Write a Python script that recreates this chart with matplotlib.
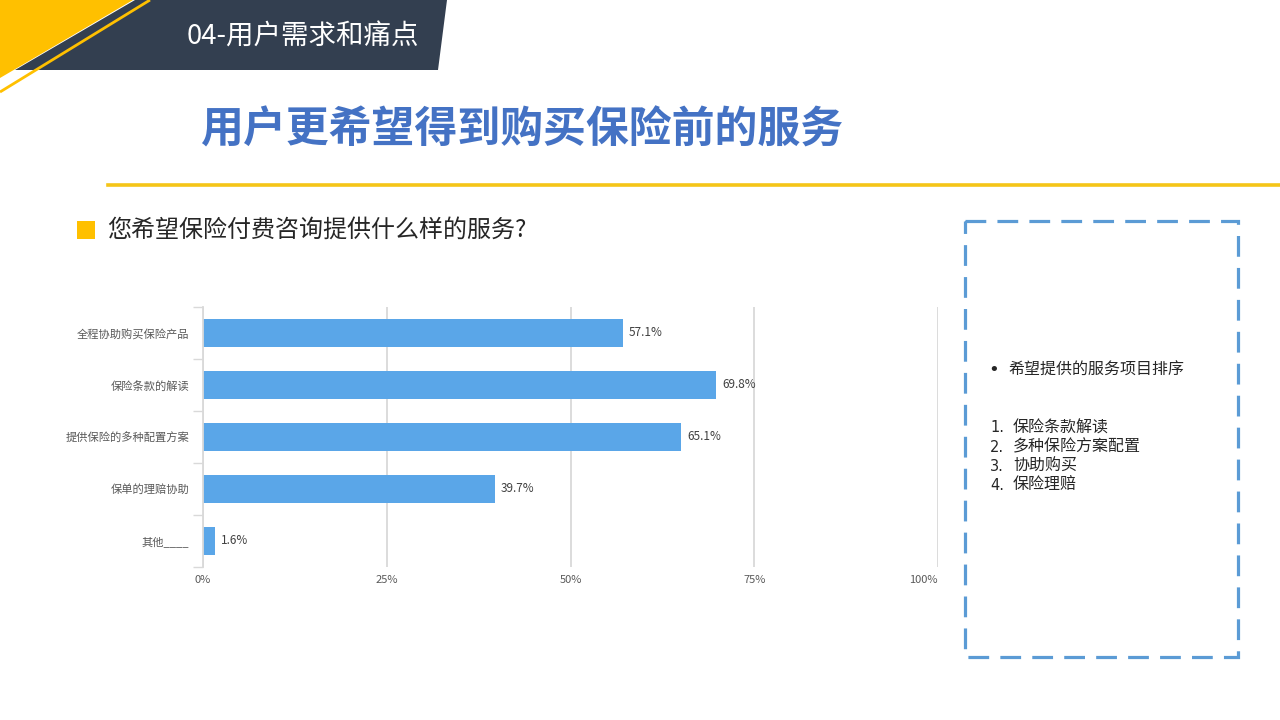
import matplotlib
matplotlib.use("Agg")
import matplotlib.pyplot as plt
from matplotlib.patches import Polygon, Rectangle

plt.rcParams['font.family'] = ['Noto Sans CJK SC', 'DejaVu Sans']

# data
categories = ['全程协助购买保险产品', '保险条款的解读', '提供保险的多种配置方案', '保单的理赔协助', '其他____']
values = [57.1, 69.8, 65.1, 39.7, 1.6]
xticks = [0, 25, 50, 75, 100]
xtick_labels = ['0%', '25%', '50%', '75%', '100%']
ranking = ['保险条款解读', '多种保险方案配置', '协助购买', '保险理赔']

W, H = 1280, 720
fig = plt.figure(figsize=(12.8, 7.2), dpi=100)

# page layer in pixel coordinates
bg = fig.add_axes([0, 0, 1, 1])
bg.set_xlim(0, W)
bg.set_ylim(H, 0)
bg.axis('off')

dark = '#333F50'
yellow = '#FFC000'
bg.add_patch(Polygon([(135, 0), (447, 0), (438, 70), (15, 70)], closed=True, color=dark, lw=0))
bg.add_patch(Polygon([(0, 0), (133, 0), (0, 78)], closed=True, color=yellow, lw=0))
bg.plot([150, 0], [0, 92], color=yellow, lw=2, solid_capstyle='butt')
bg.text(187, 37, '04-用户需求和痛点', color='white', fontsize=19.8, va='center', ha='left')

bg.text(200, 130, '用户更希望得到购买保险前的服务', color='#4472C4', fontsize=30.9,
        fontweight='bold', va='center', ha='left')
bg.plot([108, W], [185, 185], color='#F5C518', lw=2.6)

bg.add_patch(Rectangle((77, 221), 18, 18, color=yellow, lw=0))
bg.text(107, 230, '您希望保险付费咨询提供什么样的服务?', color='#262626', fontsize=17.3,
        va='center', ha='left')

bg.add_patch(Rectangle((965, 221), 273, 436, fill=False, edgecolor='#5B9BD5', lw=2.3,
                       linestyle=(0, (6.5, 3.5))))
bg.text(988, 370, '•', color='#262626', fontsize=13, va='center', ha='left', family='DejaVu Sans')
bg.text(1008, 370, '希望提供的服务项目排序', color='#262626', fontsize=11.5, va='center', ha='left')
for i, item in enumerate(ranking):
    y = 428 + i * 19.3
    bg.text(990, y, f'{i + 1}.', color='#262626', fontsize=10.5, va='center', ha='left',
            family='DejaVu Sans')
    bg.text(1013, y, item, color='#262626', fontsize=11.5, va='center', ha='left')

# bar chart
ax = fig.add_axes([203 / W, (H - 567) / H, 735 / W, 260 / H])
pos = list(range(len(categories)))
ax.barh(pos, values, height=0.52, color='#5AA6E8')
ax.set_xlim(0, 100)
ax.set_ylim(len(categories) - 0.5, -0.5)
ax.set_xticks(xticks)
ax.set_xticklabels(xtick_labels, fontsize=8, color='#595959')
ax.get_xticklabels()[-1].set_horizontalalignment('right')
ax.set_yticks(pos)
ax.set_yticklabels(categories, fontsize=8.1, color='#595959')
ax.tick_params(axis='y', length=0, pad=10)
ax.tick_params(axis='x', length=0, pad=6)
ax.set_yticks([p - 0.5 for p in pos] + [len(categories) - 0.5], minor=True)
ax.tick_params(axis='y', which='minor', length=7, color='#D9D9D9', width=1)
ax.grid(axis='x', color='#D9D9D9', lw=1.3)
ax.set_axisbelow(True)
for s in ['top', 'right', 'bottom']:
    ax.spines[s].set_visible(False)
ax.spines['left'].set_color('#D9D9D9')
ax.spines['left'].set_linewidth(1.3)

for p, v in zip(pos, values):
    ax.text(v + 0.8, p, f'{v}%', fontsize=8.5, color='#404040', va='center', ha='left')

fig.savefig('out.png', dpi=100)
